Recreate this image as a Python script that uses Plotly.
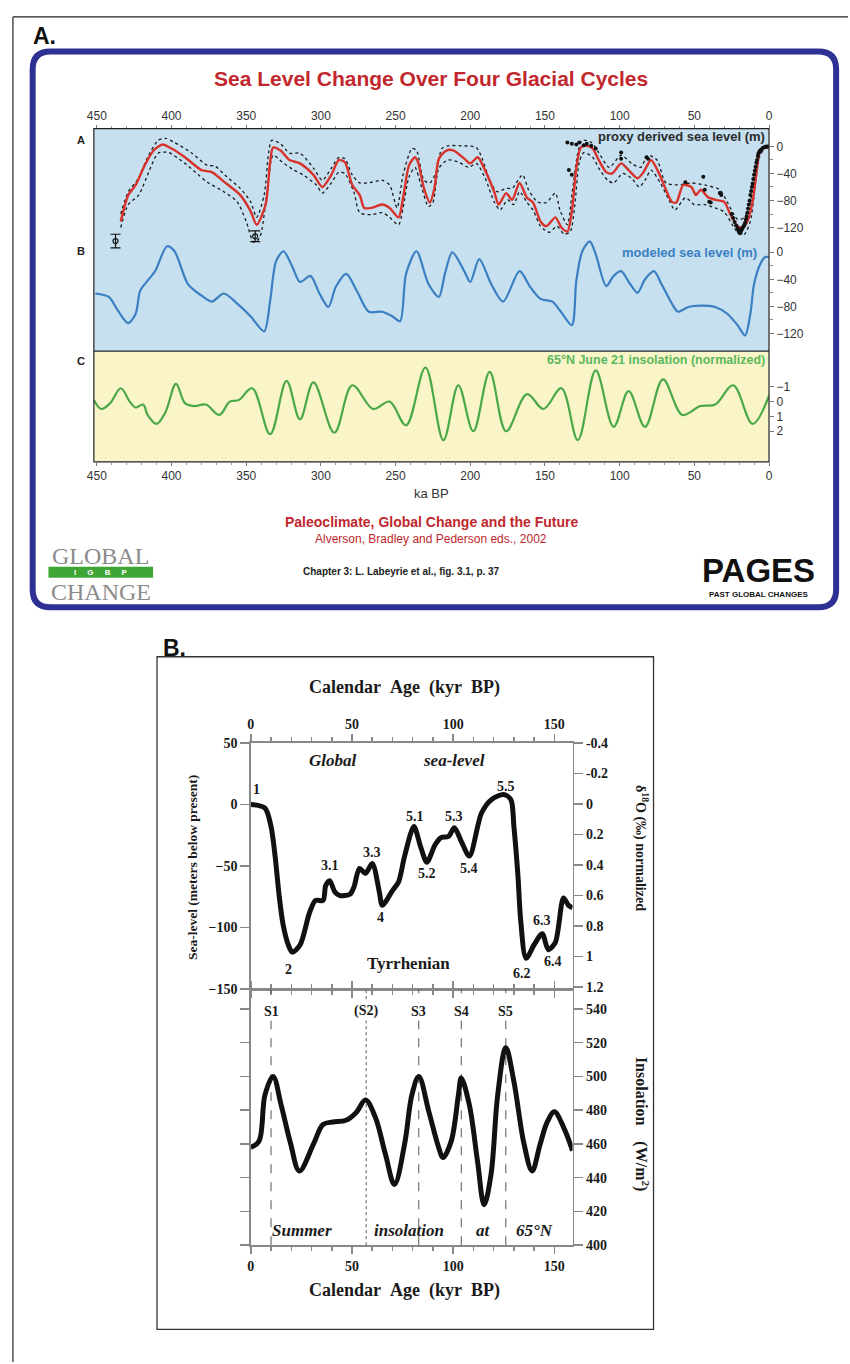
import plotly.graph_objects as go

W, H = 850, 1364
def X(p): return p / W
def Y(p): return 1 - p / H

SANS = "Liberation Sans, Arial, sans-serif"
SERIF = "Liberation Serif, Times New Roman, serif"

# ---------------- Panel A data ----------------
proxy_ka = [434, 429, 424, 418, 412, 406, 400, 391, 380, 373, 365, 354, 347, 343, 337, 334, 332, 327, 321, 314,
            305, 299, 293, 288, 284, 279, 274, 271, 266, 259, 254, 248, 245, 241, 237, 235, 231, 227, 224, 221,
            216, 211, 204, 200, 195, 191, 184, 181, 176, 172, 167, 162, 158, 153, 149, 143, 139, 135, 132, 129,
            126, 122, 118, 114, 109, 105, 99, 94, 88, 84, 79, 74, 69, 65, 62, 57.5, 52, 49, 45.6, 41,
            35.7, 30, 25.8, 21, 17.8, 14.5, 11, 8, 6, 2.6, 0]
proxy_sl = [-111, -72, -57, -28, -6, 3, -3, -16, -35, -38, -52, -72, -96, -116, -86, -23, -1.5, -6, -20, -25,
            -42, -60, -42, -20, -23, -57, -72, -91, -91, -86, -91, -105, -76, -28, -16, -23, -62, -83, -62, -18,
            -6, -6, -18, -25, -16, -31, -67, -86, -69, -79, -54, -76, -83, -111, -118, -105, -120, -126, -96, -32,
            -1.5, 1, -3, -20, -38, -40, -25, -35, -47, -38, -20, -38, -64, -82, -83, -57, -60, -72, -64, -75,
            -79, -82, -101, -118, -120, -111, -82, -32, -6, -1.5, -1.5]

proxy_hi_ka = [434, 429, 422, 416, 409, 404, 398, 387, 376, 371, 363, 354, 347, 343, 338, 335, 333, 327, 321, 314,
               305, 299, 293, 288, 284, 279, 274, 266, 259, 254, 249, 245, 239, 236, 231, 227, 223, 219, 215, 206,
               196, 192, 187, 182, 176, 172, 165, 161, 155, 149, 143, 140, 135, 132, 128, 125, 119, 114, 107, 99,
               92, 86, 81, 75, 69, 61, 52, 43, 33, 28, 21, 16.5, 11, 8, 4.6, 0]
proxy_hi = [-100, -67, -47, -16, 9, 12, 6, -9, -28, -29, -45, -62, -82, -105, -72, -9, 9, 4, -10, -10,
            -32, -50, -32, -16, -18, -42, -54, -53, -50, -57, -91, -42, -3, -6, -50, -54, -38, -3, 1, 1,
            -1.5, -18, -50, -67, -62, -62, -42, -64, -82, -83, -69, -94, -116, -72, -9, 9, 6, -9, -31, -13,
            -25, -31, -13, -20, -54, -57, -54, -57, -64, -82, -108, -105, -67, -13, -1.5, 1]

proxy_lo_ka = [434, 429, 422, 414, 409, 402, 391, 382, 376, 365, 356, 350, 345, 341, 336, 332, 326, 318, 312, 303,
               299, 293, 288, 284, 278, 274, 266, 259, 254, 248, 245, 241, 237, 233, 228, 225, 221, 215, 208, 201,
               196, 190, 184, 180, 175, 171, 167, 162, 158, 153, 147, 142, 137, 133, 130, 127, 124, 118, 114, 108,
               104, 98, 92, 87, 83, 79, 73, 67, 63, 56, 50, 43, 36, 30, 24, 20, 16.5, 12.5, 9, 6, 2.6, 0]
proxy_lo = [-120, -86, -72, -31, -10, -9, -25, -42, -53, -67, -82, -111, -142, -135, -67, -13, -23, -35, -42, -57,
            -69, -54, -38, -40, -67, -98, -101, -98, -105, -116, -91, -45, -31, -57, -89, -83, -32, -20, -23, -31,
            -25, -47, -82, -94, -79, -86, -67, -83, -94, -118, -127, -118, -130, -126, -86, -23, -9, -16, -32, -50,
            -54, -40, -47, -60, -50, -35, -53, -79, -94, -76, -86, -86, -91, -97, -118, -130, -130, -111, -53, -13, -3, -3]

coral_ka = [135, 132, 129, 127, 124, 122, 119, 116, 134, 132, 99, 99, 82, 81, 56, 44, 43, 33, 32, 40, 39,
            25, 24, 23, 22, 21, 20.5, 20, 19.5, 19, 18.5, 18, 17.5, 17, 16.5, 16, 15.5, 15, 14.5, 14, 13.5,
            13, 12.5, 12, 11.5, 11, 10.5, 10, 9.5, 9, 8.5, 8, 7.5, 7, 6.5, 6, 5, 4, 3, 2, 1]
coral_sl = [6, 4, 3, 6, 2, 4, 1, -3, -35, -42, -18, -9, -16, -18, -53, -45, -64, -69, -72, -82, -83,
            -100, -106, -112, -117, -121, -124, -127, -125, -128, -124, -122, -120, -118, -116, -113, -108, -104, -98, -92, -86,
            -80, -72, -66, -60, -55, -48, -42, -36, -30, -24, -20, -14, -10, -8, -6, -4, -2, -1, 0, 0]

errbar_ka = [437.5, 344]
errbar_sl = [-140, -133]
errbar_err = [10, 8]

model_ka = [451, 442, 436, 429, 424, 421, 416, 411, 403, 398, 389, 380, 373, 365, 356, 347, 338, 334, 330, 325,
            319, 314, 307, 301, 295, 290, 283, 276, 268, 259, 252, 247, 243, 236, 228, 221, 217, 212, 204, 200,
            194, 186, 178, 167, 160, 153, 145, 140, 132, 129, 125, 120, 116, 109, 104, 99, 93, 88, 83, 77,
            72, 65, 61, 54, 46, 36, 28, 21, 16, 12.5, 10, 6, 2.6, 0]
model_sl = [-61, -66, -86, -105, -91, -57, -42, -28, 9, 1.5, -47, -64, -73, -61, -76, -95, -117, -72, -13, 1.5,
            -22, -44, -35, -61, -81, -51, -32, -57, -88, -88, -95, -102, -32, 1.5, -47, -66, -32, 0, -28, -44,
            -10, -47, -73, -28, -51, -69, -73, -86, -108, -42, 1.5, 16, -3, -50, -35, -28, -47, -60, -40, -28,
            -47, -76, -88, -81, -79, -81, -91, -108, -123, -91, -47, -18, -7, -7]

insA_ka = [452, 447, 441, 434, 428, 424, 419, 416, 410, 404, 397, 391, 385, 377, 368, 361, 355, 346, 334, 323,
           314, 305, 291, 279, 265, 254, 243, 230, 218, 208, 198, 187, 176, 162, 151, 139, 128, 116, 104, 94,
           83, 71, 58, 46, 36, 24, 11, 0]
insA_norm = [-0.1, 0.5, 0.1, -0.9, 0, 0.4, 0.2, 0.9, 1.5, 0.7, -1.2, 0.1, 0.3, 0.2, 0.9, 0, -0.1, -0.9, 2.2, -1.4,
             1.2, -1.3, 2.1, -1.1, 0.5, 0, 1.6, -2.3, 2.6, -1.1, 2.0, -2.0, 2.0, -0.5, 0.5, -0.9, 2.6, -2.1, 1.7, -0.7,
             1.7, -1.5, 0.9, 0.3, 0.2, -1.1, 1.5, -0.4]

A_xticks = [0, 50, 100, 150, 200, 250, 300, 350, 400, 450]
A_sl_ticks = [0, -40, -80, -120]
A_sl_minor = [-20, -60, -100]
A_ins_ticks = [-1, 0, 1, 2]

# ---------------- Panel B data ----------------
B_sl_kyr = [0, 7, 10, 12, 14, 16, 18.5, 20.5, 24.4, 29, 32, 35.7, 37, 39, 41.5, 44, 49, 51, 53.7, 56.7,
            60, 63.5, 65, 70, 73, 76, 80.6, 84, 87, 91, 94, 97.7, 100.6, 104, 108, 114, 119, 125, 128.5, 130,
            132, 133.4, 136, 140, 144, 147, 150.5, 154.5, 157, 159]
B_sl_m = [0, -3, -18, -42, -74, -98, -114, -120, -114, -88, -78, -78, -66, -62, -71, -74, -73, -67, -52, -56,
          -48, -71, -82, -70, -63, -42, -18, -35, -47, -33, -27, -26, -19, -30, -42, -7, 4, 8, 4, -18,
          -58, -95, -125, -114, -105, -118, -112, -76, -82, -84]

B_ins_kyr = [0, 4, 7, 11, 15, 19.5, 24, 31, 35.7, 40.5, 47, 52, 56.7, 61.6, 66.5, 71, 76, 79.6, 83, 88,
             92.8, 95, 99, 102.6, 104, 108, 112, 115.3, 118.7, 122, 126, 130, 135, 139, 143, 146.5, 150, 154.5, 159]
B_ins_w = [458, 461.5, 489, 500, 483, 461, 444, 460, 471.5, 473, 474, 478.5, 486, 475.6, 454, 436, 460, 489, 500, 479,
           458, 452, 461.5, 489, 499, 483, 450, 424, 442, 489, 517, 497, 460, 444, 460, 473, 479, 470, 456]

B_S_kyr = [10, 57, 83, 104, 126]
B_S_names = ["S1", "(S2)", "S3", "S4", "S5"]
B_S_dash = ["dash", "dot", "dash", "dash", "dash"]

B_x_ticks = [0, 50, 100, 150]
B_sl_ticks = [-150, -100, -50, 0, 50]
B_d18_ticks = [-0.4, -0.2, 0, 0.2, 0.4, 0.6, 0.8, 1.0, 1.2]
B_d18_text = ["-0.4", "-0.2", "0", "0.2", "0.4", "0.6", "0.8", "1", "1.2"]
B_ins_ticks = [400, 420, 440, 460, 480, 500, 520, 540]

B_stage_names = ["1", "2", "3.1", "3.3", "4", "5.1", "5.2", "5.3", "5.4", "5.5", "6.2", "6.3", "6.4"]
B_stage_kyr = [2.9, 18.6, 39, 60, 64, 81, 87, 100.6, 108, 126, 134, 144, 149.5]
B_stage_m = [12, -134, -50, -39, -92, -10, -56, -10, -52, 14.5, -137, -94, -128]

# ---------------- Figure ----------------
fig = go.Figure()

dotted = dict(color="#1a1a1a", width=1.3, dash="dot", shape="spline", smoothing=0.7)
fig.add_trace(go.Scatter(x=proxy_hi_ka, y=proxy_hi, xaxis="x", yaxis="y", mode="lines", line=dotted, hoverinfo="skip"))
fig.add_trace(go.Scatter(x=proxy_lo_ka, y=proxy_lo, xaxis="x", yaxis="y", mode="lines", line=dotted, hoverinfo="skip"))
fig.add_trace(go.Scatter(x=proxy_ka, y=proxy_sl, xaxis="x", yaxis="y", mode="lines",
                         line=dict(color="#d8322a", width=2.4, shape="spline", smoothing=0.7)))
fig.add_trace(go.Scatter(x=coral_ka, y=coral_sl, xaxis="x", yaxis="y", mode="markers",
                         marker=dict(color="#111", size=4)))
fig.add_trace(go.Scatter(x=errbar_ka, y=errbar_sl, xaxis="x", yaxis="y", mode="markers",
                         marker=dict(symbol="circle-open", color="#111", size=5, line=dict(width=1.2)),
                         error_y=dict(type="data", array=errbar_err, color="#111", thickness=1.2, width=5)))
fig.add_trace(go.Scatter(x=model_ka, y=model_sl, xaxis="x", yaxis="y2", mode="lines",
                         line=dict(color="#3a7fc1", width=2.2, shape="spline", smoothing=0.8)))
fig.add_trace(go.Scatter(x=insA_ka, y=insA_norm, xaxis="x2", yaxis="y3", mode="lines",
                         line=dict(color="#4aa849", width=2.2, shape="spline", smoothing=1.0)))

# Panel B
for s, d in zip(B_S_kyr, B_S_dash):
    fig.add_trace(go.Scatter(x=[s, s], y=[400, 551.7], xaxis="x4", yaxis="y6", mode="lines",
                             line=dict(color="#555", width=1, dash=d), hoverinfo="skip"))
fig.add_trace(go.Scatter(x=B_sl_kyr, y=B_sl_m, xaxis="x3", yaxis="y4", mode="lines",
                         line=dict(color="#111", width=5, shape="spline", smoothing=0.8)))
fig.add_trace(go.Scatter(x=[], y=[], xaxis="x3", yaxis="y5"))
fig.add_trace(go.Scatter(x=B_ins_kyr, y=B_ins_w, xaxis="x4", yaxis="y6", mode="lines",
                         line=dict(color="#111", width=5, shape="spline", smoothing=1.0)))
fig.add_trace(go.Scatter(x=[], y=[], xaxis="x4", yaxis="y7"))

# ---------------- Axes ----------------
A_tickfont = dict(family=SANS, size=12, color="#333")
B_tickfont = dict(family=SERIF, size=14, color="#1a1a1a", weight="bold")

axA_x = dict(domain=[X(88), X(772)], range=[452, 0], tickvals=A_xticks, ticks="outside", ticklen=3,
             tickcolor="#777", tickfont=A_tickfont, showgrid=False, zeroline=False, showline=False,
             minor=dict(tickmode="linear", tick0=0, dtick=10, ticks="outside", ticklen=2, tickcolor="#999"))
axB_x = dict(domain=[X(247), X(573)], range=[0, 159], tickvals=B_x_ticks, ticks="outside", ticklen=7,
             tickcolor="#888", tickwidth=1.5, tickfont=B_tickfont, showgrid=False, zeroline=False,
             showline=True, linecolor="#888", linewidth=1.5, mirror="ticks",
             minor=dict(tickmode="linear", tick0=0, dtick=10, ticks="outside", ticklen=4, tickcolor="#888"))
axA_y = dict(ticks="outside", ticklen=4, tickcolor="#777", tickfont=A_tickfont, showgrid=False,
             zeroline=False, showline=False,
             minor=dict(tickmode="array", tickvals=A_sl_minor, ticks="outside", ticklen=3, tickcolor="#888"))

fig.update_layout(
    width=W, height=H, margin=dict(l=0, r=0, t=0, b=0), showlegend=False,
    paper_bgcolor="white", plot_bgcolor="rgba(0,0,0,0)",
    xaxis=dict(axA_x, anchor="y", side="top"),
    xaxis2=dict(axA_x, anchor="y3", side="bottom"),
    yaxis=dict(axA_y, domain=[Y(348), Y(123)], range=[-303.1, 26.4], anchor="x", side="right",
               tickvals=A_sl_ticks),
    yaxis2=dict(axA_y, overlaying="y", range=[-146.4, 183.0], anchor="x", side="right",
                tickvals=A_sl_ticks),
    yaxis3=dict(domain=[Y(460), Y(348)], range=[4.07, -3.4], anchor="x2", side="right",
                tickvals=A_ins_ticks, ticks="outside", ticklen=4, tickcolor="#777",
                tickfont=A_tickfont, showgrid=False, zeroline=False, showline=False),
    xaxis3=dict(axB_x, anchor="y4", side="top"),
    xaxis4=dict(axB_x, anchor="y6", side="bottom"),
    yaxis4=dict(domain=[Y(993), Y(744)], range=[-150, 50], anchor="x3", side="left",
                tickvals=B_sl_ticks, ticks="outside", ticklen=9, tickcolor="#888", tickwidth=1.5,
                tickfont=B_tickfont, showgrid=False, zeroline=False, showline=True, linecolor="#888", linewidth=1.5),
    yaxis5=dict(overlaying="y4", range=[1.213, -0.4], anchor="x3", side="right",
                tickvals=B_d18_ticks, ticktext=B_d18_text, ticks="outside", ticklen=9, tickcolor="#888",
                tickwidth=1.5, tickfont=B_tickfont, showgrid=False, zeroline=False, showline=True,
                linecolor="#888", linewidth=1.5),
    yaxis6=dict(domain=[Y(1252), Y(993)], range=[400, 551.7], anchor="x4", side="right",
                tickvals=B_ins_ticks, ticks="outside", ticklen=9, tickcolor="#888", tickwidth=1.5,
                tickfont=B_tickfont, showgrid=False, zeroline=False, showline=True, linecolor="#888", linewidth=1.5),
    yaxis7=dict(overlaying="y6", range=[400, 551.7], anchor="x4", side="left",
                tickvals=B_ins_ticks, ticks="outside", ticklen=9, tickcolor="#888", tickwidth=1.5,
                showticklabels=False, showgrid=False, zeroline=False, showline=True, linecolor="#888", linewidth=1.5),
)

# ---------------- Shapes ----------------
NAVY = "#2e3192"
def rounded(x0, y0, x1, y1, r):
    rx, ry = r / W, r / H
    a0, a1, b0, b1 = X(x0), X(x1), Y(y0), Y(y1)
    return (f"M {a0+rx},{b0} L {a1-rx},{b0} Q {a1},{b0} {a1},{b0-ry} L {a1},{b1+ry} "
            f"Q {a1},{b1} {a1-rx},{b1} L {a0+rx},{b1} Q {a0},{b1} {a0},{b1+ry} L {a0},{b0-ry} "
            f"Q {a0},{b0} {a0+rx},{b0} Z")

shapes = [
    dict(type="line", xref="paper", yref="paper", x0=X(6), x1=X(6), y0=Y(10), y1=Y(1370), line=dict(color="#222", width=1.2)),
    dict(type="line", xref="paper", yref="paper", x0=X(6), x1=X(852), y0=Y(10), y1=Y(10), line=dict(color="#222", width=1.2)),
    dict(type="path", xref="paper", yref="paper", path=rounded(26, 45, 840, 607, 18), line=dict(color=NAVY, width=6)),
    dict(type="rect", xref="paper", yref="paper", x0=X(88), x1=X(772), y0=Y(348), y1=Y(123),
         fillcolor="#c6e0f0", line=dict(width=0), layer="below"),
    dict(type="rect", xref="paper", yref="paper", x0=X(88), x1=X(772), y0=Y(460), y1=Y(348),
         fillcolor="#f9f5c9", line=dict(width=0), layer="below"),
    dict(type="rect", xref="paper", yref="paper", x0=X(88), x1=X(772), y0=Y(460), y1=Y(123),
         line=dict(color="#222", width=1.2)),
    dict(type="line", xref="paper", yref="paper", x0=X(88), x1=X(772), y0=Y(348), y1=Y(348),
         line=dict(color="#222", width=1.2)),
    dict(type="rect", xref="paper", yref="paper", x0=X(152), x1=X(655), y0=Y(1337), y1=Y(657),
         line=dict(color="#333", width=1.3)),
    dict(type="rect", xref="paper", yref="paper", x0=X(42), x1=X(148), y0=Y(577), y1=Y(566),
         fillcolor="#3fa535", line=dict(width=0)),
]
fig.update_layout(shapes=shapes)

# ---------------- Annotations ----------------
anns = []
def ann(text, x, y, size, color="#111", family=SANS, xanchor="center", angle=0, **kw):
    anns.append(dict(text=text, x=X(x), y=Y(y), xref="paper", yref="paper", showarrow=False,
                     xanchor=xanchor, yanchor="middle", textangle=angle,
                     font=dict(family=family, size=size, color=color), **kw))

ann("<b>A.</b>", 38, 29, 23, "#111")
ann("<b>Sea Level Change Over Four Glacial Cycles</b>", 430, 72, 21, "#c1272d")
ann("<b>A</b>", 75, 134, 11, "#222")
ann("<b>B</b>", 75, 247, 11, "#222")
ann("<b>C</b>", 75, 358, 11, "#222")
ann("<b>proxy derived sea level (m)</b>", 770, 131, 13, "#2b2b2b", xanchor="right")
ann("<b>modeled sea level (m)</b>", 762, 248, 13, "#3a7fc1", xanchor="right")
ann("<b>65°N June 21 insolation (normalized)</b>", 770, 357, 12.5, "#5cb85c", xanchor="right")
ann("ka BP", 430, 492, 13, "#333")
ann("<b>Paleoclimate, Global Change and the Future</b>", 430, 521, 14, "#c1272d")
ann("Alverson, Bradley and Pederson eds., 2002", 430, 538, 12, "#c1272d")
ann("<b>Chapter 3: L. Labeyrie et al., fig. 3.1, p. 37</b>", 400, 571, 10, "#222")
ann("GLOBAL", 95, 555, 24, "#8c8c8c", family=SERIF)
ann("<b>I\u00a0\u00a0\u00a0\u00a0\u00a0G\u00a0\u00a0\u00a0\u00a0\u00a0B\u00a0\u00a0\u00a0\u00a0\u00a0P</b>", 95, 571.5, 8, "white")
ann("CHANGE", 95, 591, 24, "#8c8c8c", family=SERIF)
ann("<b>PAGES</b>", 761, 570, 33, "#111", family="Liberation Sans Narrow, Liberation Sans, Arial")
ann("<b>PAST GLOBAL CHANGES</b>", 761, 594, 8, "#111", family="Liberation Sans Narrow, Liberation Sans, Arial")

# Panel B texts
ann("<b>B.</b>", 170, 648, 23, "#111")
sp = "\u00a0\u00a0"
ann(f"<b>Calendar{sp}Age{sp}(kyr{sp}BP)</b>", 403, 688, 18, "#1a1a1a", family=SERIF)
ann(f"<b>Calendar{sp}Age{sp}(kyr{sp}BP)</b>", 403, 1298, 18, "#1a1a1a", family=SERIF)
ann("<b>Sea-level (meters below present)</b>", 188, 870, 13.5, "#1a1a1a", family=SERIF, angle=-90)
ann("<b>δ<sup>18</sup>O (‰) normalized</b>", 643, 850, 14, "#1a1a1a", family=SERIF, angle=90)
ann(f"<b>Insolation{sp}{sp}(W/m<sup>2</sup>)</b>", 643, 1130, 16, "#1a1a1a", family=SERIF, angle=90)
ann("<b><i>Global</i></b>", 330, 762, 17, "#1a1a1a", family=SERIF)
ann("<b><i>sea-level</i></b>", 453, 762, 17, "#1a1a1a", family=SERIF)
ann("<b>Tyrrhenian</b>", 407, 967, 17, "#1a1a1a", family=SERIF)
ann("<b><i>Summer</i></b>", 299, 1237, 17, "#1a1a1a", family=SERIF)
ann("<b><i>insolation</i></b>", 407, 1237, 17, "#1a1a1a", family=SERIF)
ann("<b><i>at</i></b>", 483, 1237, 17, "#1a1a1a", family=SERIF)
ann("<b><i>65°N</i></b>", 534, 1237, 17, "#1a1a1a", family=SERIF)

for name, k, m in zip(B_stage_names, B_stage_kyr, B_stage_m):
    anns.append(dict(text=f"<b>{name}</b>", x=k, y=m, xref="x3", yref="y4", showarrow=False,
                     font=dict(family=SERIF, size=14, color="#1a1a1a")))
for name, k in zip(B_S_names, B_S_kyr):
    anns.append(dict(text=f"<b>{name}</b>", x=k, y=Y(1025), xref="x4", yref="paper", showarrow=False,
                     bgcolor="white", font=dict(family=SERIF, size=14, color="#1a1a1a")))

fig.update_layout(annotations=anns)
fig.write_html("out.html", config={"displayModeBar": False, "staticPlot": True},
               post_script="document.body.style.margin='0';document.body.style.overflow='hidden';")
